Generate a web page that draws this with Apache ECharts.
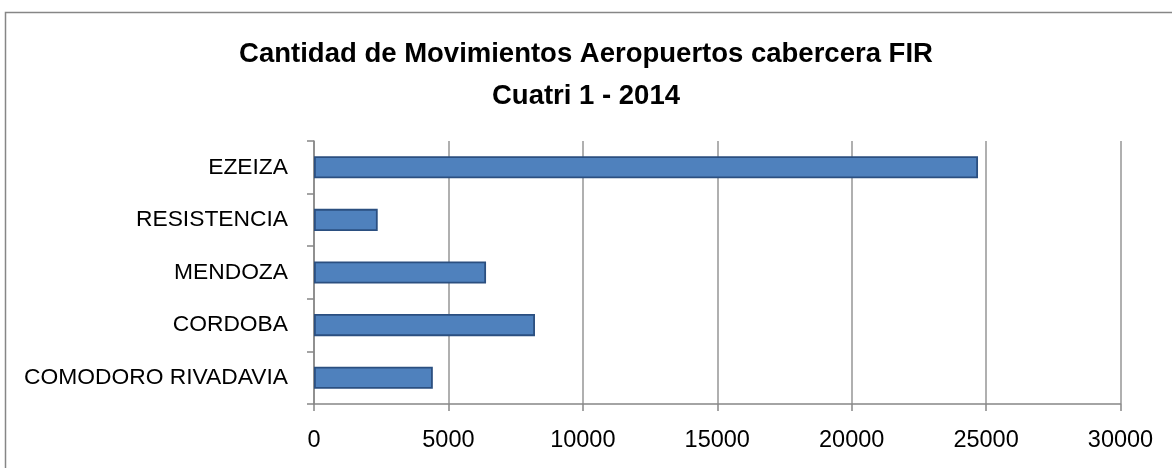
<!DOCTYPE html>
<html>
<head>
<meta charset="utf-8">
<script src="https://cdn.jsdelivr.net/npm/echarts@6/dist/echarts.min.js"></script>
<style>
html,body{margin:0;padding:0;background:#fff;}
#chart{width:1172px;height:468px;}
</style>
</head>
<body>
<div id="chart"></div>
<script>
const categories = ['COMODORO RIVADAVIA', 'CORDOBA', 'MENDOZA', 'RESISTENCIA', 'EZEIZA'];
const movimientos = [4420, 8220, 6400, 2370, 24700];
const titleLines = ['Cantidad de Movimientos Aeropuertos cabercera FIR', 'Cuatri 1 - 2014'];

const chart = echarts.init(document.getElementById('chart'), null, {renderer: 'canvas'});
const font = '"Liberation Sans", Arial, sans-serif';
chart.setOption({
  animation: false,
  backgroundColor: '#ffffff',
  graphic: [
    {type: 'rect', left: 3, top: 10, shape: {width: 1200, height: 500},
     style: {fill: 'none', stroke: '#868686', lineWidth: 1.5}, silent: true}
  ],
  title: {
    text: titleLines.join('\n'),
    left: 'center',
    top: 28,
    textStyle: {fontFamily: font, fontWeight: 'bold', fontSize: 27.5, color: '#000', lineHeight: 42}
  },
  grid: {left: 314, right: 51.5, top: 141, bottom: 64, containLabel: false},
  xAxis: {
    type: 'value', min: 0, max: 30000, interval: 5000,
    axisLine: {show: true, lineStyle: {color: '#868686', width: 1.5}},
    axisTick: {show: true, length: 7, lineStyle: {color: '#868686', width: 1.5}},
    splitLine: {show: true, lineStyle: {color: '#969696', width: 1.5}},
    axisLabel: {fontFamily: font, fontSize: 23.5, color: '#000', margin: 25,
                formatter: v => String(v)}
  },
  yAxis: {
    type: 'category', data: categories,
    axisLine: {show: true, lineStyle: {color: '#868686', width: 1.5}},
    axisTick: {show: true, length: 7, lineStyle: {color: '#868686', width: 1.5}},
    splitLine: {show: false},
    axisLabel: {fontFamily: font, fontSize: 22.8, color: '#000', margin: 26}
  },
  series: [{
    type: 'bar', data: movimientos, barCategoryGap: '58%',
    itemStyle: {color: '#4F81BD', borderColor: '#2B4F80', borderWidth: 1.8}
  }]
});
</script>
</body>
</html>
